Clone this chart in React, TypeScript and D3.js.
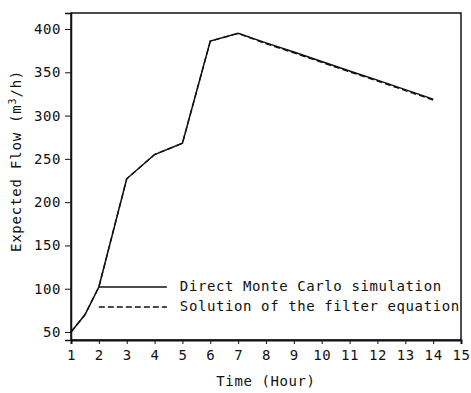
import { useEffect, useRef } from 'react';
import * as d3 from 'd3';

// Direct Monte Carlo simulation (solid)
const hours = [1, 1.5, 2, 3, 4, 5, 6, 7, 8, 9, 10, 11, 12, 13, 14];
const monteCarlo = [50, 70, 102, 227, 255, 268, 386, 395, 384, 373.5, 362.5, 351.5, 341, 330, 319];
// Solution of the filter equation (dashed)
const filterEq = [50, 70, 102, 227, 255, 268, 386, 395, 383, 372.5, 361.5, 350.5, 340, 329, 318];

const xTicks = d3.range(1, 16);
const yTicks = [50, 100, 150, 200, 250, 300, 350, 400];

const legendItems = [
  { label: 'Direct Monte Carlo simulation', dash: null },
  { label: 'Solution of the filter equation', dash: '6,3' }
];

const FONT = '"DejaVu Sans Mono", monospace';

export default function App() {
  const svgRef = useRef<SVGSVGElement>(null);

  useEffect(() => {
    if (!svgRef.current) return;
    const svg = d3.select(svgRef.current);
    svg.selectAll('*').remove();

    const width = 471;
    const height = 393;
    const margin = { top: 13, right: 10, bottom: 53, left: 71 };
    const innerWidth = width - margin.left - margin.right;
    const innerHeight = height - margin.top - margin.bottom;

    const g = svg.append('g')
      .attr('transform', `translate(${margin.left},${margin.top})`);

    const x = d3.scaleLinear().domain([1, 15]).range([0, innerWidth]);
    const y = d3.scaleLinear().domain([40.8, 418.5]).range([innerHeight, 0]);

    // Frame
    g.append('rect')
      .attr('width', innerWidth)
      .attr('height', innerHeight)
      .attr('fill', 'none')
      .attr('stroke', '#111')
      .attr('stroke-width', 1.5);

    // X axis
    const xAxis = g.append('g')
      .attr('transform', `translate(0,${innerHeight})`)
      .call(d3.axisBottom(x).tickValues(xTicks).tickSize(4).tickPadding(6).tickFormat(d3.format('d')));
    xAxis.select('.domain').attr('stroke', '#111').attr('stroke-width', 2);
    xAxis.selectAll('line').attr('stroke', '#111');
    xAxis.selectAll('text')
      .style('font-family', FONT)
      .style('font-size', '14px')
      .style('letter-spacing', '0.6px')
      .attr('fill', '#111');

    // Y axis
    const yAxis = g.append('g')
      .call(d3.axisLeft(y).tickValues(yTicks).tickSize(6).tickPadding(4));
    yAxis.select('.domain').attr('stroke', '#111').attr('stroke-width', 1.5);
    yAxis.selectAll('line').attr('stroke', '#111');
    yAxis.selectAll('text')
      .style('font-family', FONT)
      .style('font-size', '14px')
      .style('letter-spacing', '0.6px')
      .attr('fill', '#111');

    const line = d3.line<number>()
      .x((_, i) => x(hours[i]))
      .y(d => y(d));

    g.append('path')
      .datum(filterEq)
      .attr('fill', 'none')
      .attr('stroke', '#111')
      .attr('stroke-width', 1.4)
      .attr('stroke-dasharray', '6,3')
      .attr('d', line);

    g.append('path')
      .datum(monteCarlo)
      .attr('fill', 'none')
      .attr('stroke', '#111')
      .attr('stroke-width', 1.5)
      .attr('d', line);

    // Legend
    const legend = g.append('g')
      .attr('transform', `translate(${x(2)}, ${y(102)})`);
    legendItems.forEach((item, i) => {
      const row = legend.append('g').attr('transform', `translate(0, ${i * 20})`);
      row.append('line')
        .attr('x1', 0)
        .attr('x2', 68)
        .attr('y1', 0)
        .attr('y2', 0)
        .attr('stroke', '#111')
        .attr('stroke-width', 1.3)
        .attr('stroke-dasharray', item.dash);
      row.append('text')
        .attr('x', 81)
        .attr('y', 0)
        .attr('dy', '0.32em')
        .style('font-family', FONT)
        .style('font-size', '14px')
        .style('letter-spacing', '0.6px')
        .attr('fill', '#111')
        .text(item.label);
    });

    // Axis titles
    g.append('text')
      .attr('x', innerWidth / 2)
      .attr('y', innerHeight + 46)
      .attr('text-anchor', 'middle')
      .style('font-family', FONT)
      .style('font-size', '14px')
      .style('letter-spacing', '0.6px')
      .attr('fill', '#111')
      .text('Time (Hour)');

    const yTitle = svg.append('text')
      .attr('transform', `translate(21, ${161}) rotate(-90)`)
      .attr('text-anchor', 'middle')
      .style('font-family', FONT)
      .style('font-size', '14px')
      .style('letter-spacing', '0.8px')
      .attr('fill', '#111');
    yTitle.append('tspan').text('Expected Flow (m');
    yTitle.append('tspan').attr('dy', -5).style('font-size', '10px').text('3');
    yTitle.append('tspan').attr('dy', 5).text('/h)');
  }, []);

  return (
    <svg
      ref={svgRef}
      width={471}
      height={393}
      style={{ position: 'absolute', left: 0, top: 0, background: '#fff' }}
    />
  );
}
